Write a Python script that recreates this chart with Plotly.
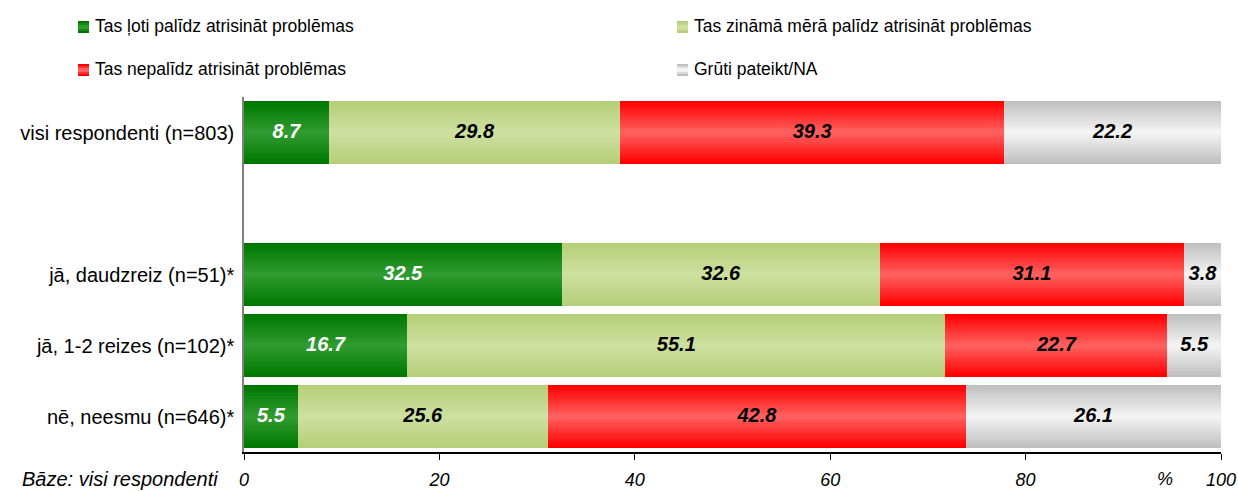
import plotly.graph_objects as go
import numpy as np

categories = ["visi respondenti (n=803)", "jā, daudzreiz (n=51)*",
              "jā, 1-2 reizes (n=102)*", "nē, neesmu (n=646)*"]
positions = [0, 2, 3, 4]
series_names = ["Tas ļoti palīdz atrisināt problēmas",
                "Tas zināmā mērā palīdz atrisināt problēmas",
                "Tas nepalīdz atrisināt problēmas",
                "Grūti pateikt/NA"]
very_helps = [8.7, 32.5, 16.7, 5.5]
somewhat_helps = [29.8, 32.6, 55.1, 25.6]
not_helps = [39.3, 31.1, 22.7, 42.8]
hard_to_say = [22.2, 3.8, 5.5, 26.1]
tick_vals = [0, 20, 40, 60, 80, 100]
tick_text = ["0", "20", "40", "60", "80", "100"]

series = [very_helps, somewhat_helps, not_helps, hard_to_say]
grad = [("#007800", "#2f9a2f"), ("#b6ce78", "#cde0a0"),
        ("#ff0000", "#ff5f5f"), ("#c0c0c0", "#f3f3f3")]
text_colors = ["white", "black", "black", "black"]
FONT = "Liberation Sans, Arial, sans-serif"


def hex2rgb(h):
    h = h.lstrip("#")
    return np.array([int(h[i:i + 2], 16) for i in (0, 2, 4)], dtype=float)


def mix(a, b, t):
    c = hex2rgb(a) * (1 - t) + hex2rgb(b) * t
    return "rgb(%d,%d,%d)" % tuple(np.round(c))


fig = go.Figure()
W = 0.887
N = 14
bases = np.zeros(len(categories))
for si, vals in enumerate(series):
    vals = np.array(vals)
    edge, center = grad[si]
    for k in range(N):
        t = k / (N - 1)
        fig.add_trace(go.Bar(
            x=vals, y=positions, base=bases, orientation="h",
            width=W * (1 - k / N), marker=dict(color=mix(edge, center, t), line=dict(width=0)),
            showlegend=False, hoverinfo="skip"))
    fig.add_trace(go.Scatter(
        x=bases + vals / 2, y=positions, mode="text",
        text=["%.1f" % v for v in vals],
        textfont=dict(family=FONT, size=20, color=text_colors[si], weight="bold", style="italic"),
        showlegend=False, hoverinfo="skip", cliponaxis=False))
    bases = bases + vals


def px2x(px):
    return (px - 244) / 977


def py2y(py):
    return (452 - py) / 355


# manual legend
leg_pos = [(78, 27), (677, 27), (78, 70), (677, 70)]
for i, name in enumerate(series_names):
    px, py = leg_pos[i]
    edge, center = grad[i]
    for k in range(3):
        inset = k * 2
        fig.add_shape(type="rect", xref="paper", yref="paper",
                      x0=px2x(px), x1=px2x(px + 11),
                      y0=py2y(py + 6 - inset), y1=py2y(py - 6 + inset),
                      fillcolor=mix(edge, center, k / 2), line=dict(width=0), layer="above")
    fig.add_annotation(x=px2x(px + 15), y=py2y(py - 1), xref="paper", yref="paper",
                       text=name, showarrow=False, xanchor="left", yanchor="middle",
                       font=dict(family=FONT, size=17.5, color="black"))

fig.add_annotation(x=94.3, y=py2y(479), xref="x", yref="paper", text="%",
                   showarrow=False, xanchor="center", yanchor="middle",
                   font=dict(family=FONT, size=18, color="black", style="italic"))
fig.add_annotation(x=px2x(220), y=py2y(479), xref="paper", yref="paper",
                   text="Bāze: visi respondenti", showarrow=False,
                   xanchor="right", yanchor="middle",
                   font=dict(family=FONT, size=20, color="black", style="italic"))

fig.update_layout(
    barmode="overlay", bargap=0,
    width=1238, height=492,
    margin=dict(l=244, r=17, t=97, b=40, autoexpand=False),
    plot_bgcolor="white", paper_bgcolor="white",
    font=dict(family=FONT, size=17, color="black"),
)
fig.update_xaxes(range=[0, 100], tickvals=tick_vals, ticktext=tick_text,
                 showgrid=False, zeroline=False, showline=True, linecolor="black",
                 linewidth=1.5, ticks="outside", ticklen=6, tickcolor="black",
                 ticklabelstandoff=5, automargin=False,
                 tickfont=dict(family=FONT, size=18, color="black", style="italic"))
fig.update_yaxes(range=[4.5, -0.5], tickvals=positions, ticktext=categories,
                 showgrid=False, zeroline=False, showline=True, linecolor="#808080",
                 linewidth=1.5, ticks="", ticklabelstandoff=4, automargin=False,
                 tickfont=dict(family=FONT, size=20, color="black"))

fig.write_html("out.html", config={"displayModeBar": False},
               post_script="document.body.style.margin='0';document.body.style.overflow='hidden';")
